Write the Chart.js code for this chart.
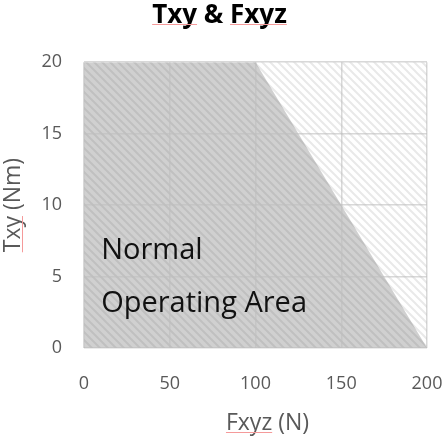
<!DOCTYPE html>
<html>
<head>
<meta charset="utf-8">
<script src="https://cdn.jsdelivr.net/npm/chart.js@4.4.1/dist/chart.umd.min.js"></script>
<style>
  html, body { margin: 0; padding: 0; background: #ffffff; }
  #wrap { width: 447px; height: 439px; }
</style>
</head>
<body>
<div id="wrap"><canvas id="txy" width="447" height="439"></canvas></div>
<script>
// ---- data ----
var fxyz = [0, 100, 200];          // N
var txy = [20, 20, 0];             // Nm
var xTicks = [0, 50, 100, 150, 200];
var yTicks = [0, 5, 10, 15, 20];
var areaLabel = ["Normal", "Operating Area"];
var labelPos = [[10, 6.2], [10, 2.5]]; // data coords of text baselines
var xTitle = 'Fxyz (N)';

var FONT = "'Open Sans', 'Noto Sans', sans-serif";

// hatch patterns ("\" stripes, 8px)
function hatch(bg, fg) {
  var c = document.createElement('canvas');
  c.width = 8; c.height = 8;
  var g = c.getContext('2d');
  g.fillStyle = bg;
  g.fillRect(0, 0, 8, 8);
  g.strokeStyle = fg;
  g.lineWidth = 2;
  g.beginPath();
  g.moveTo(-2, -2); g.lineTo(10, 10);
  g.moveTo(-2, 6); g.lineTo(2, 10);
  g.moveTo(6, -2); g.lineTo(10, 2);
  g.stroke();
  return g.createPattern(c, 'repeat');
}
var gctx = document.getElementById('txy').getContext('2d');
var lightHatch = hatch('#ffffff', '#e9e9e9');
var darkHatch = hatch('#d0d0d0', '#c0c0c0');

var points = fxyz.map(function (x, i) { return { x: x, y: txy[i] }; });

var plotBg = {
  id: 'plotBg',
  beforeDraw: function (chart) {
    var a = chart.chartArea, c = chart.ctx;
    c.save();
    c.fillStyle = lightHatch;
    c.fillRect(a.left, a.top, a.right - a.left, a.bottom - a.top);
    c.restore();
  }
};

var areaText = {
  id: 'areaText',
  afterDraw: function (chart) {
    var c = chart.ctx, sx = chart.scales.x, sy = chart.scales.y;
    c.save();
    c.font = "29px " + FONT;
    c.fillStyle = '#111111';
    c.textBaseline = 'alphabetic';
    c.textAlign = 'left';
    areaLabel.forEach(function (t, i) {
      c.fillText(t, sx.getPixelForValue(labelPos[i][0]), sy.getPixelForValue(labelPos[i][1]));
    });
    // x axis title, sits a little right of the plot centre in the reference
    c.font = "23px " + FONT;
    c.fillStyle = '#595959';
    c.textAlign = 'center';
    c.fillText(xTitle, (sx.left + sx.right) / 2 + 12, 430);
    c.restore();
  }
};

// red spell-check underlines seen in the reference
var squiggle = {
  id: 'squiggle',
  afterDraw: function (chart) {
    var c = chart.ctx, tb = chart.titleBlock;
    c.save();
    c.strokeStyle = '#f59a9a';
    c.lineWidth = 1;
    c.font = "bold 26px " + FONT;
    var full = c.measureText('Txy & Fxyz').width;
    var x0 = (tb.left + tb.right) / 2 - full / 2;
    var w1 = c.measureText('Txy').width;
    var x2 = x0 + c.measureText('Txy & ').width;
    var w2 = c.measureText('Fxyz').width;
    var yb = tb.top + 24.5;
    c.beginPath();
    c.moveTo(x0, yb); c.lineTo(x0 + w1, yb);
    c.moveTo(x2, yb); c.lineTo(x2 + w2, yb);
    c.stroke();
    c.font = "23px " + FONT;
    var sx = chart.scales.x;
    var fx = c.measureText(xTitle).width;
    var xs = (sx.left + sx.right) / 2 + 12 - fx / 2;
    var xf = c.measureText('Fxyz').width;
    c.beginPath();
    c.moveTo(xs, 432.5); c.lineTo(xs + xf, 432.5);
    c.stroke();
    var sy = chart.scales.y;
    var ty = c.measureText('Txy (Nm)').width;
    var yc = (sy.top + sy.bottom) / 2;
    var tw = c.measureText('Txy').width;
    c.beginPath();
    c.moveTo(22.5, yc + ty / 2); c.lineTo(22.5, yc + ty / 2 - tw);
    c.stroke();
    c.restore();
  }
};

new Chart(gctx, {
  type: 'line',
  data: {
    datasets: [{
      label: 'Normal Operating Area',
      data: points,
      fill: 'origin',
      backgroundColor: darkHatch,
      borderWidth: 0,
      borderColor: 'rgba(0,0,0,0)',
      pointRadius: 0,
      tension: 0
    }]
  },
  options: {
    responsive: false,
    animation: false,
    layout: { padding: { left: 0, right: 8, top: 0, bottom: 0 } },
    plugins: {
      legend: { display: false },
      tooltip: { enabled: false },
      title: {
        display: true,
        text: 'Txy & Fxyz',
        color: '#000000',
        font: { family: FONT, size: 26, weight: 'bold' },
        padding: { top: 0, bottom: 31 }
      }
    },
    scales: {
      x: {
        type: 'linear',
        min: 0, max: 200,
        afterBuildTicks: function (s) { s.ticks = xTicks.map(function (v) { return { value: v }; }); },
        afterFit: function (s) { s.height = 91; s.paddingLeft = 0; s.paddingRight = 20; },
        grid: { color: 'rgba(190,190,190,0.6)', lineWidth: 1.5, drawTicks: false, z: 1 },
        border: { display: false },
        ticks: { color: '#595959', font: { family: FONT, size: 18 }, padding: 25, maxRotation: 0 },
        title: { display: false }
      },
      y: {
        type: 'linear',
        min: 0, max: 20,
        afterBuildTicks: function (s) { s.ticks = yTicks.map(function (v) { return { value: v }; }); },
        afterFit: function (s) { s.width = 84; s.paddingTop = 0; s.paddingBottom = 0; },
        grid: { color: 'rgba(190,190,190,0.6)', lineWidth: 1.5, drawTicks: false, z: 1 },
        border: { display: false },
        ticks: { color: '#595959', font: { family: FONT, size: 18 }, padding: 22 },
        title: { display: true, text: 'Txy (Nm)', color: '#595959', font: { family: FONT, size: 23 }, padding: { top: 0, bottom: 14 } }
      }
    }
  },
  plugins: [plotBg, areaText, squiggle]
});
</script>
</body>
</html>
